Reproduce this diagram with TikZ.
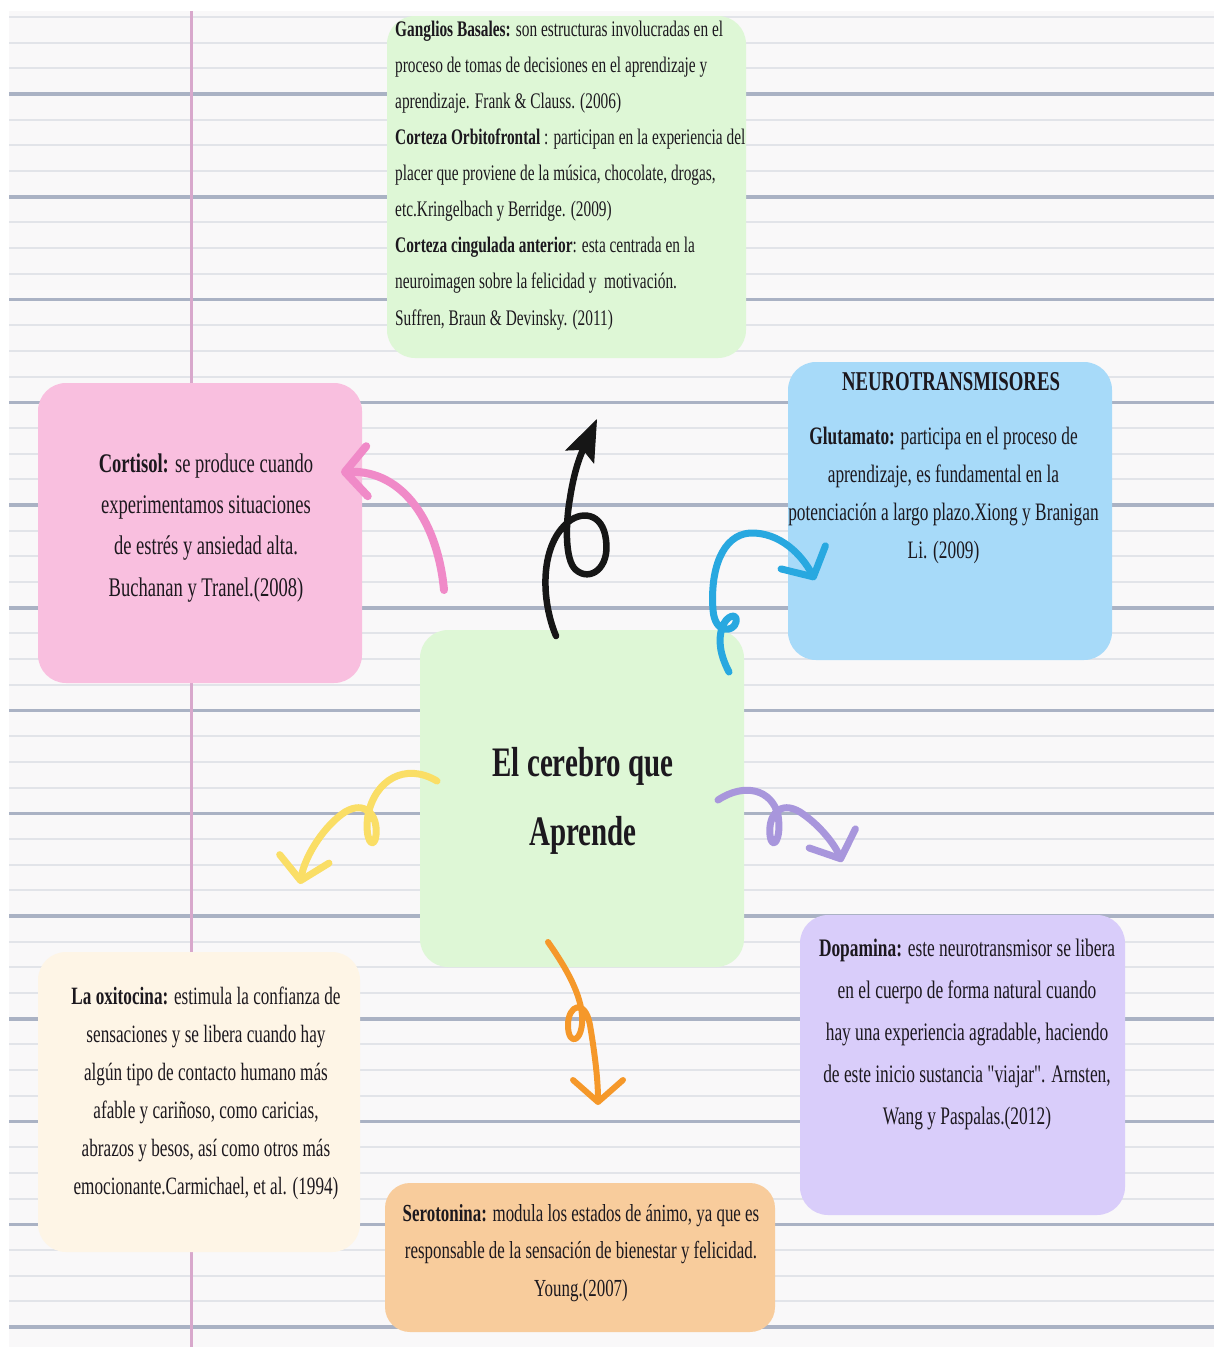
\documentclass[tikz,border=0pt]{standalone}
\usepackage{fontspec}
\setmainfont{Liberation Serif}[FakeStretch=0.69, Ligatures=TeXOff]
\usetikzlibrary{arrows.meta}
\definecolor{paper}{RGB}{249,248,249}
\definecolor{thinrule}{RGB}{226,228,233}
\definecolor{thickrule}{RGB}{170,178,196}
\definecolor{marginc}{RGB}{216,168,204}
\definecolor{ggreen}{RGB}{222,247,214}
\definecolor{gpink}{RGB}{249,191,223}
\definecolor{gblue}{RGB}{167,218,249}
\definecolor{gcream}{RGB}{254,245,230}
\definecolor{glav}{RGB}{217,205,250}
\definecolor{gorange}{RGB}{248,204,156}
\definecolor{txt}{RGB}{28,24,30}
\definecolor{aBlack}{RGB}{22,22,22}
\definecolor{aPink}{RGB}{240,138,200}
\definecolor{aBlue}{RGB}{40,168,224}
\definecolor{aYellow}{RGB}{250,222,102}
\definecolor{aPurple}{RGB}{168,150,220}
\definecolor{aOrange}{RGB}{245,152,42}
\begin{document}
\begin{tikzpicture}[x=1pt,y=-1pt,
  box/.style={draw=none, rounded corners=28pt, inner sep=0pt},
  tx/.style={inner sep=0pt, text=txt, anchor=base},
  arr/.style={line width=7pt, line cap=round, line join=round},
  barb/.style={-{Straight Barb[length=22pt,width=50pt,round]}}
]
\useasboundingbox (0,0) rectangle (1214,1347);
\fill[white] (0,0) rectangle (1214,1347);
\fill[paper] (9,11) rectangle (1214,1347);
\foreach \k in {0,...,51}{
  \pgfmathsetmacro\yy{16.94+\k*25.6875}
  \pgfmathtruncatemacro\mm{mod(\k,4)}
  \ifnum\mm=3
    \draw[thickrule, line width=3.5pt] (9,\yy) -- (1214,\yy);
  \else
    \draw[thinrule, line width=2pt] (9,\yy) -- (1214,\yy);
  \fi
}
\draw[marginc, line width=3pt] (191,11) -- (191,1347);

% boxes
\node[box, fill=ggreen, minimum width=359, minimum height=342] (topbox) at (566.5,187) {};
\node[box, fill=gpink, minimum width=324, minimum height=300] (cortbox) at (200,533) {};
\node[box, fill=gblue, minimum width=324, minimum height=298] (neurobox) at (950,511) {};
\node[box, fill=ggreen, minimum width=324, minimum height=337] (centerbox) at (582,798.5) {};
\node[box, fill=gcream, minimum width=322, minimum height=300] (oxybox) at (199,1102) {};
\node[box, fill=glav, minimum width=325, minimum height=300] (dopabox) at (962.5,1065) {};
\node[box, fill=gorange, minimum width=390, minimum height=149, rounded corners=25pt] (serobox) at (580,1257.5) {};

% arrow end points
\coordinate (tB) at (556,636);  \coordinate (hB) at (597,419);
\coordinate (tP) at (444,590);  \coordinate (hP) at (341,472);
\coordinate (tBl) at (729,672); \coordinate (hBl) at (815,580);
\coordinate (tY) at (437,781);  \coordinate (hY) at (300,884);
\coordinate (tPu) at (718,800); \coordinate (hPu) at (842,862);
\coordinate (tO) at (548,942);  \coordinate (hO) at (598,1105);

% black
\draw[arr, aBlack, line width=6.5pt, -{Stealth[length=42pt,width=32pt,inset=8pt,line width=1pt]}]
  (tB) .. controls (541,600) and (540,548) .. (566,524)
  .. controls (580,510) and (603,512) .. (606,540)
  .. controls (610,568) and (590,582) .. (576,570)
  .. controls (564,560) and (566,520) .. (570,498)
  .. controls (572,485) and (576,465) .. (hB);
% pink
\draw[arr, aPink, line width=8pt, barb] (tP) .. controls (438,525) and (405,470) .. (hP);
% blue
\draw[arr, aBlue, barb]
  (tBl) .. controls (720,655) and (718,640) .. (722,628)
  .. controls (726,615) and (738,612) .. (736,622)
  .. controls (734,632) and (715,635) .. (713,610)
  .. controls (710,570) and (722,535) .. (750,533)
  .. controls (780,532) and (802,555) .. (hBl);
% yellow
\draw[arr, aYellow, barb]
  (tY) .. controls (405,762) and (375,780) .. (368,815)
  .. controls (364,840) and (374,852) .. (376,835)
  .. controls (378,815) and (365,800) .. (345,812)
  .. controls (325,825) and (305,855) .. (hY);
% purple
\draw[arr, aPurple, barb]
  (tPu) .. controls (745,782) and (772,790) .. (778,815)
  .. controls (782,840) and (772,852) .. (770,835)
  .. controls (768,815) and (780,800) .. (800,812)
  .. controls (820,825) and (835,845) .. (hPu);
% orange
\draw[arr, aOrange, line width=6pt, barb]
  (tO) .. controls (562,962) and (580,990) .. (582,1015)
  .. controls (584,1042) and (568,1048) .. (568,1025)
  .. controls (568,1005) and (585,998) .. (590,1025)
  .. controls (595,1055) and (598,1080) .. (hO);

% texts (base anchor = baseline of last line)
\node[tx, anchor=base west, align=left, font=\fontsize{22.25}{36.1}\selectfont] (toptext) at (395,325)
 {\textbf{Ganglios Basales:} son estructuras involucradas en el\\
  proceso de tomas de decisiones en el aprendizaje y\\
  aprendizaje. Frank \& Clauss. (2006)\\
  \textbf{Corteza Orbitofrontal} : participan en la experiencia del\\
  placer que proviene de la música, chocolate, drogas,\\
  etc.Kringelbach y Berridge. (2009)\\
  \textbf{Corteza cingulada anterior}: esta centrada en la\\
  neuroimagen sobre la felicidad y\ \ motivación.\\
  Suffren, Braun \& Devinsky. (2011)};

\node[tx, align=center, font=\fontsize{26.9}{41.3}\selectfont] (corttext) at (206,596)
 {\textbf{Cortisol:} se produce cuando\\
  experimentamos situaciones\\
  de estrés y ansiedad alta.\\
  Buchanan y Tranel.(2008)};

\node[tx, font=\fontsize{27.2}{30}\selectfont\bfseries] (neurotitle) at (951,390) {NEUROTRANSMISORES};
\node[tx, align=center, font=\fontsize{25.1}{38}\selectfont] (neurotext) at (943.5,558)
 {\textbf{Glutamato:} participa en el proceso de\\
  aprendizaje, es fundamental en la\\
  potenciación a largo plazo.Xiong y Branigan\\
  Li. (2009)};

\node[tx, align=center, font=\fontsize{42}{69}\selectfont\bfseries] (centertext) at (583,845)
 {El cerebro que\\ Aprende};

\node[tx, align=center, font=\fontsize{24.9}{38}\selectfont] (oxytext) at (206,1194)
 {\textbf{La oxitocina:} estimula la confianza de\\
  sensaciones y se libera cuando hay\\
  algún tipo de contacto humano más\\
  afable y cariñoso, como caricias,\\
  abrazos y besos, así como otros más\\
  emocionante.Carmichael, et al. (1994)};

\node[tx, align=center, font=\fontsize{25.2}{42}\selectfont] (dopatext) at (967,1124)
 {\textbf{Dopamina:} este neurotransmisor se libera\\
  en el cuerpo de forma natural cuando\\
  hay una experiencia agradable, haciendo\\
  de este inicio sustancia "viajar". Arnsten,\\
  Wang y Paspalas.(2012)};

\node[tx, align=center, font=\fontsize{24.5}{37.5}\selectfont] (serotext) at (581,1296)
 {\textbf{Serotonina:} modula los estados de ánimo, ya que es\\
  responsable de la sensación de bienestar y felicidad.\\
  Young.(2007)};
\end{tikzpicture}
\end{document}
